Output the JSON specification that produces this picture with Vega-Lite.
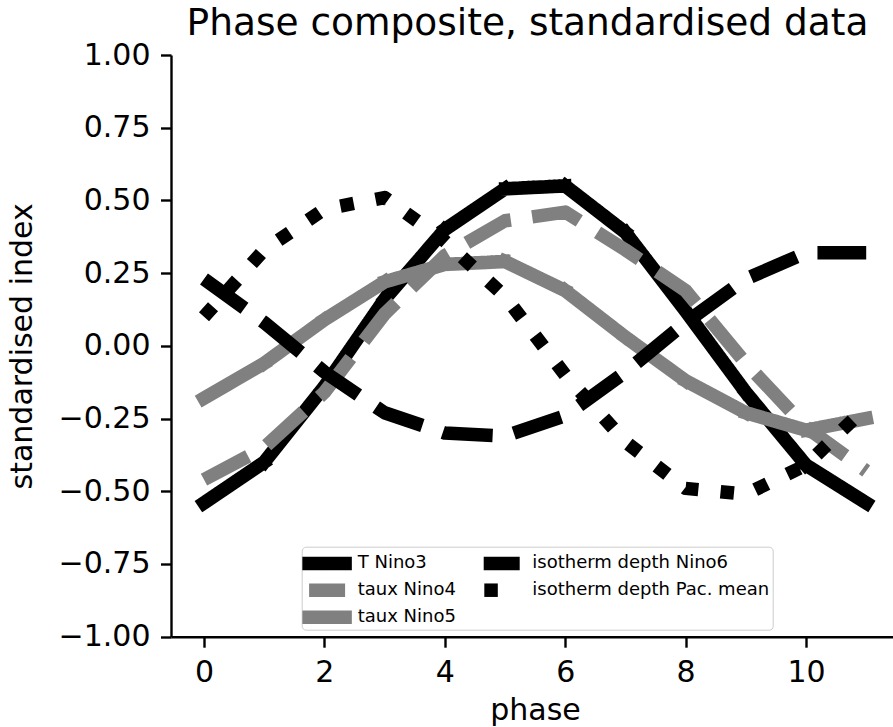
{
  "$schema": "https://vega.github.io/schema/vega-lite/v6.json",
  "width": 722,
  "height": 581.7,
  "autosize": {"type": "none"},
  "padding": {"left": 171, "top": 55, "right": 0, "bottom": 90.3},
  "background": "white",
  "config": {
    "font": "DejaVu Sans",
    "view": {"stroke": null},
    "axis": {
      "grid": false,
      "labelFont": "DejaVu Sans",
      "labelFontSize": 30,
      "labelColor": "black",
      "labelPadding": 10.5,
      "tickSize": 10.5,
      "tickWidth": 2.4,
      "tickColor": "black",
      "domainColor": "black",
      "domainWidth": 2.4,
      "titleFont": "DejaVu Sans",
      "titleFontSize": 30,
      "titleFontWeight": "normal",
      "titleColor": "black",
      "labelOverlap": false,
      "labelFlush": false
    }
  },
  "title": {
    "text": "Phase composite, standardised data",
    "fontSize": 37.5,
    "fontWeight": "normal",
    "font": "DejaVu Sans",
    "color": "black",
    "anchor": "middle",
    "frame": "group",
    "baseline": "alphabetic",
    "offset": -32,
    "dx": -4.5
  },
  "data": {
    "values": [
      {"series": "T Nino3", "phase": 0, "index": -0.54},
      {"series": "T Nino3", "phase": 1, "index": -0.40},
      {"series": "T Nino3", "phase": 2, "index": -0.14},
      {"series": "T Nino3", "phase": 3, "index": 0.16},
      {"series": "T Nino3", "phase": 4, "index": 0.40},
      {"series": "T Nino3", "phase": 5, "index": 0.54},
      {"series": "T Nino3", "phase": 6, "index": 0.55},
      {"series": "T Nino3", "phase": 7, "index": 0.39},
      {"series": "T Nino3", "phase": 8, "index": 0.12},
      {"series": "T Nino3", "phase": 9, "index": -0.16},
      {"series": "T Nino3", "phase": 10, "index": -0.41},
      {"series": "T Nino3", "phase": 11, "index": -0.54},
      {"series": "taux Nino4", "phase": 0, "index": -0.46},
      {"series": "taux Nino4", "phase": 1, "index": -0.35},
      {"series": "taux Nino4", "phase": 2, "index": -0.16},
      {"series": "taux Nino4", "phase": 3, "index": 0.11},
      {"series": "taux Nino4", "phase": 4, "index": 0.31},
      {"series": "taux Nino4", "phase": 5, "index": 0.43},
      {"series": "taux Nino4", "phase": 6, "index": 0.46},
      {"series": "taux Nino4", "phase": 7, "index": 0.33},
      {"series": "taux Nino4", "phase": 8, "index": 0.19},
      {"series": "taux Nino4", "phase": 9, "index": -0.06},
      {"series": "taux Nino4", "phase": 10, "index": -0.28},
      {"series": "taux Nino4", "phase": 11, "index": -0.43},
      {"series": "taux Nino5", "phase": 0, "index": -0.18},
      {"series": "taux Nino5", "phase": 1, "index": -0.06},
      {"series": "taux Nino5", "phase": 2, "index": 0.09},
      {"series": "taux Nino5", "phase": 3, "index": 0.22},
      {"series": "taux Nino5", "phase": 4, "index": 0.28},
      {"series": "taux Nino5", "phase": 5, "index": 0.29},
      {"series": "taux Nino5", "phase": 6, "index": 0.19},
      {"series": "taux Nino5", "phase": 7, "index": 0.03},
      {"series": "taux Nino5", "phase": 8, "index": -0.12},
      {"series": "taux Nino5", "phase": 9, "index": -0.23},
      {"series": "taux Nino5", "phase": 10, "index": -0.29},
      {"series": "taux Nino5", "phase": 11, "index": -0.25},
      {"series": "isotherm depth Nino6", "phase": 0, "index": 0.23},
      {"series": "isotherm depth Nino6", "phase": 1, "index": 0.08},
      {"series": "isotherm depth Nino6", "phase": 2, "index": -0.09},
      {"series": "isotherm depth Nino6", "phase": 3, "index": -0.23},
      {"series": "isotherm depth Nino6", "phase": 4, "index": -0.30},
      {"series": "isotherm depth Nino6", "phase": 5, "index": -0.31},
      {"series": "isotherm depth Nino6", "phase": 6, "index": -0.24},
      {"series": "isotherm depth Nino6", "phase": 7, "index": -0.09},
      {"series": "isotherm depth Nino6", "phase": 8, "index": 0.08},
      {"series": "isotherm depth Nino6", "phase": 9, "index": 0.23},
      {"series": "isotherm depth Nino6", "phase": 10, "index": 0.32},
      {"series": "isotherm depth Nino6", "phase": 11, "index": 0.32},
      {"series": "isotherm depth Pac. mean", "phase": 0, "index": 0.10},
      {"series": "isotherm depth Pac. mean", "phase": 1, "index": 0.33},
      {"series": "isotherm depth Pac. mean", "phase": 2, "index": 0.47},
      {"series": "isotherm depth Pac. mean", "phase": 3, "index": 0.51},
      {"series": "isotherm depth Pac. mean", "phase": 4, "index": 0.36},
      {"series": "isotherm depth Pac. mean", "phase": 5, "index": 0.17},
      {"series": "isotherm depth Pac. mean", "phase": 6, "index": -0.10},
      {"series": "isotherm depth Pac. mean", "phase": 7, "index": -0.33},
      {"series": "isotherm depth Pac. mean", "phase": 8, "index": -0.49},
      {"series": "isotherm depth Pac. mean", "phase": 9, "index": -0.51},
      {"series": "isotherm depth Pac. mean", "phase": 10, "index": -0.41},
      {"series": "isotherm depth Pac. mean", "phase": 11, "index": -0.21}
    ]
  },
  "encoding": {
    "x": {
      "field": "phase", "type": "quantitative",
      "scale": {"domain": [-0.548, 11.445], "nice": false, "zero": false},
      "axis": {
        "values": [0, 2, 4, 6, 8, 10], "format": "d", "title": "phase",
        "titleX": 364, "titleY": 83, "titleBaseline": "alphabetic", "titleAlign": "center", "titleAnchor": null
      }
    },
    "y": {
      "field": "index", "type": "quantitative",
      "scale": {"domain": [-1, 1], "nice": false, "zero": false},
      "axis": {
        "values": [-1, -0.75, -0.5, -0.25, 0, 0.25, 0.5, 0.75, 1], "format": ".2f",
        "title": "standardised index",
        "titleX": -139.5, "titleY": 290.85, "titleAngle": 270, "titleAlign": "center", "titleBaseline": "alphabetic", "titleAnchor": null
      }
    },
    "color": {
      "field": "series", "type": "nominal",
      "scale": {
        "domain": ["T Nino3", "taux Nino4", "taux Nino5", "isotherm depth Nino6", "isotherm depth Pac. mean"],
        "range": ["#000000", "#808080", "#808080", "#000000", "#000000"]
      },
      "legend": {
        "title": null,
        "orient": "none",
        "legendX": 130.7,
        "legendY": 491.7,
        "columns": 2,
        "symbolType": "M-2.75,0H2.75",
        "symbolSize": 324,
        "symbolStrokeWidth": 13.5,
        "symbolOpacity": 1,
        "labelFont": "DejaVu Sans",
        "labelFontSize": 18,
        "labelColor": "black",
        "labelOffset": 6,
        "labelLimit": 400,
        "columnPadding": 19.6,
        "rowPadding": 4,
        "padding": 3,
        "strokeColor": "#cccccc",
        "fillColor": "rgba(255,255,255,0.8)",
        "cornerRadius": 4,
        "encode": {
          "symbols": {
            "update": {
              "size": {"signal": "datum.value === 'T Nino3' || datum.value === 'taux Nino5' ? 324 : (datum.value === 'isotherm depth Pac. mean' ? 160 : 171.4)"},
              "x": {"value": 22.4},
              "strokeJoin": {"value": "round"}
            }
          },
          "labels": {
            "update": {
              "x": {"value": 53}
            }
          }
        }
      }
    },
    "strokeDash": {
      "field": "series", "type": "nominal",
      "scale": {
        "domain": ["T Nino3", "taux Nino4", "taux Nino5", "isotherm depth Nino6", "isotherm depth Pac. mean"],
        "range": [[1, 0], [50, 21.6], [1, 0], [50, 21.6], [13.5, 22.3]]
      },
      "legend": null
    }
  },
  "layer": [
    {
      "transform": [{"filter": "datum.series === 'T Nino3'"}],
      "mark": {"type": "line", "strokeWidth": 13.5, "strokeJoin": "round", "strokeCap": "square"}
    },
    {
      "transform": [{"filter": "datum.series === 'taux Nino4'"}],
      "mark": {"type": "line", "strokeWidth": 13.5, "strokeJoin": "round", "strokeCap": "butt"}
    },
    {
      "transform": [{"filter": "datum.series === 'taux Nino5'"}],
      "mark": {"type": "line", "strokeWidth": 13.5, "strokeJoin": "round", "strokeCap": "square"}
    },
    {
      "transform": [{"filter": "datum.series === 'isotherm depth Nino6'"}],
      "mark": {"type": "line", "strokeWidth": 13.5, "strokeJoin": "round", "strokeCap": "butt"}
    },
    {
      "transform": [{"filter": "datum.series === 'isotherm depth Pac. mean'"}],
      "mark": {"type": "line", "strokeWidth": 13.5, "strokeJoin": "round", "strokeCap": "butt"}
    },
    {
      "data": {"values": [{"level": 0}]},
      "mark": {"type": "rule", "color": "#808080", "strokeWidth": 3, "strokeDash": [3, 4.95]},
      "encoding": {"y": {"datum": 0}, "x": null, "color": null, "strokeDash": null}
    },
    {
      "data": {"values": [{"level": 1}]},
      "mark": {"type": "rule", "color": "black", "strokeWidth": 2.4},
      "encoding": {"y": {"datum": 1}, "x": null, "color": null, "strokeDash": null}
    }
  ]
}
